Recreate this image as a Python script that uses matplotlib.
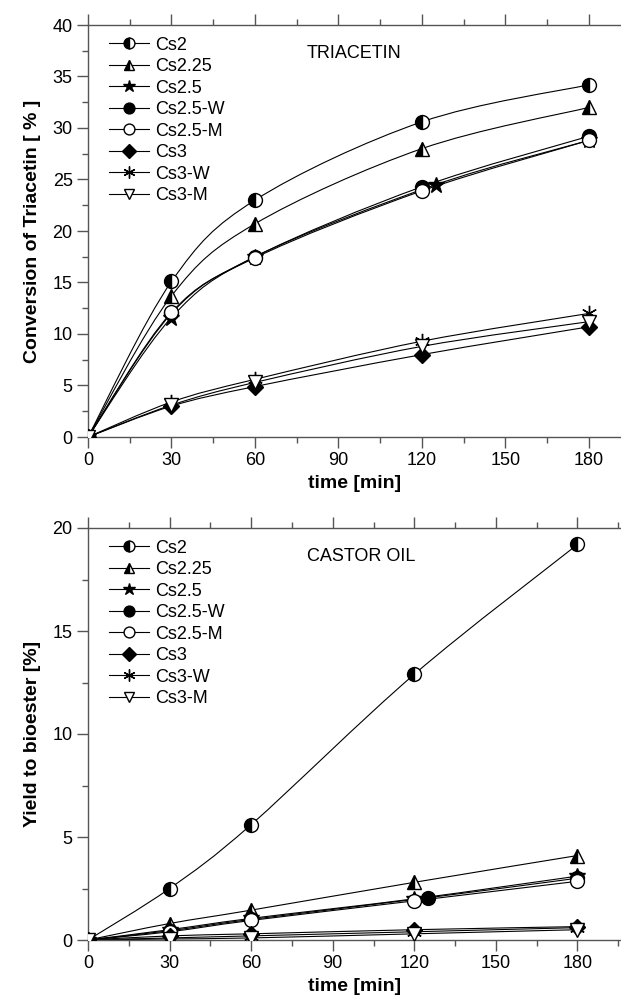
import matplotlib
matplotlib.use("Agg")
import matplotlib.pyplot as plt
from matplotlib.path import Path
from matplotlib.patches import PathPatch
from matplotlib.ticker import MultipleLocator
import numpy as np

plt.rcParams['font.family'] = ['Liberation Sans', 'DejaVu Sans']

labels = ["Cs2", "Cs2.25", "Cs2.5", "Cs2.5-W", "Cs2.5-M", "Cs3", "Cs3-W", "Cs3-M"]

# ---- Triacetin conversion [%] ----
tri_time = {
    "Cs2":     [0, 30, 60, 120, 180],
    "Cs2.25":  [0, 30, 60, 120, 180],
    "Cs2.5":   [0, 30, 60, 125, 180],
    "Cs2.5-W": [0, 30, 60, 120, 180],
    "Cs2.5-M": [0, 30, 60, 120, 180],
    "Cs3":     [0, 30, 60, 120, 180],
    "Cs3-W":   [0, 30, 60, 120, 180],
    "Cs3-M":   [0, 30, 60, 120, 180],
}
tri_cs2 = [0, 15.1, 23.0, 30.6, 34.2]
tri_cs225 = [0, 13.7, 20.7, 28.0, 32.0]
tri_cs25 = [0, 11.6, 17.5, 24.5, 28.8]
tri_cs25w = [0, 12.0, 17.5, 24.3, 29.2]
tri_cs25m = [0, 12.1, 17.4, 23.9, 28.8]
tri_cs3 = [0, 3.0, 4.9, 8.0, 10.7]
tri_cs3w = [0, 3.4, 5.6, 9.3, 12.0]
tri_cs3m = [0, 3.1, 5.3, 8.8, 11.2]

# ---- Castor oil yield to bioester [%] ----
cas_time = {
    "Cs2":     [0, 30, 60, 120, 180],
    "Cs2.25":  [0, 30, 60, 120, 180],
    "Cs2.5":   [0, 30, 60, 120, 180],
    "Cs2.5-W": [0, 30, 60, 125, 180],
    "Cs2.5-M": [0, 30, 60, 120, 180],
    "Cs3":     [0, 30, 60, 120, 180],
    "Cs3-W":   [0, 30, 60, 120, 180],
    "Cs3-M":   [0, 30, 60, 120, 180],
}
cas_cs2 = [0, 2.5, 5.6, 12.9, 19.2]
cas_cs225 = [0, 0.8, 1.45, 2.8, 4.1]
cas_cs25 = [0, 0.5, 1.05, 2.0, 3.1]
cas_cs25w = [0, 0.45, 1.0, 2.05, 3.0]
cas_cs25m = [0, 0.4, 0.95, 1.9, 2.85]
cas_cs3 = [0, 0.2, 0.3, 0.5, 0.65]
cas_cs3w = [0, 0.1, 0.2, 0.4, 0.6]
cas_cs3m = [0, 0.05, 0.1, 0.3, 0.5]

tri_vals = dict(zip(labels, [tri_cs2, tri_cs225, tri_cs25, tri_cs25w, tri_cs25m, tri_cs3, tri_cs3w, tri_cs3m]))
cas_vals = dict(zip(labels, [cas_cs2, cas_cs225, cas_cs25, cas_cs25w, cas_cs25m, cas_cs3, cas_cs3w, cas_cs3m]))

ASTER = (6, 2, 0)
styles = {
    "Cs2":     dict(marker='o', fillstyle='left', markerfacecolor='black', markerfacecoloralt='white'),
    "Cs2.25":  dict(marker='^', fillstyle='left', markerfacecolor='black', markerfacecoloralt='white'),
    "Cs2.5":   dict(marker='*', markerfacecolor='black', ms_scale=1.2),
    "Cs2.5-W": dict(marker='o', markerfacecolor='black'),
    "Cs2.5-M": dict(marker='o', markerfacecolor='white'),
    "Cs3":     dict(marker='D', markerfacecolor='black', ms_scale=0.85),
    "Cs3-W":   dict(marker=ASTER, markerfacecolor='black', ms_scale=1.1),
    "Cs3-M":   dict(marker='v', markerfacecolor='white'),
}

MS = 10


def smooth_path(ax, x, y):
    # Catmull-Rom curve through the data points, drawn as cubic Bezier segments
    x = np.asarray(x, float); y = np.asarray(y, float)
    verts = [(x[0], y[0])]
    codes = [Path.MOVETO]
    n = len(x)
    for i in range(n - 1):
        p0 = (x[max(i - 1, 0)], y[max(i - 1, 0)])
        p1 = (x[i], y[i]); p2 = (x[i + 1], y[i + 1])
        p3 = (x[min(i + 2, n - 1)], y[min(i + 2, n - 1)])
        c1 = (p1[0] + (p2[0] - p0[0]) / 6, p1[1] + (p2[1] - p0[1]) / 6)
        c2 = (p2[0] - (p3[0] - p1[0]) / 6, p2[1] - (p3[1] - p1[1]) / 6)
        verts += [c1, c2, p2]
        codes += [Path.CURVE4] * 3
    ax.add_patch(PathPatch(Path(verts, codes), facecolor='none', edgecolor='black', lw=0.8, zorder=2))


def draw(ax, times, vals, xmax, ymax, ylabel, title, ytick_step):
    handles = []
    for lab in labels:
        st = dict(styles[lab])
        scale = st.pop('ms_scale', 1.0)
        smooth_path(ax, times[lab], vals[lab])
        ax.plot(times[lab], vals[lab], linestyle='none', markersize=MS * scale,
                markeredgecolor='black', markeredgewidth=1.0, zorder=3, **st)
        h, = ax.plot([], [], color='black', lw=0.8, markersize=MS * scale * 0.78,
                     markeredgecolor='black', markeredgewidth=1.0, **st)
        handles.append(h)
    ax.set_xlim(0, xmax)
    ax.set_ylim(0, ymax)
    ax.xaxis.set_major_locator(MultipleLocator(30))
    ax.xaxis.set_minor_locator(MultipleLocator(15))
    ax.yaxis.set_major_locator(MultipleLocator(ytick_step))
    ax.yaxis.set_minor_locator(MultipleLocator(ytick_step / 2))
    ax.spines['right'].set_visible(False)
    for s in ['left', 'bottom', 'top']:
        ax.spines[s].set_color('#555555')
        ax.spines[s].set_linewidth(1.0)
    ax.tick_params(axis='both', which='major', direction='out', length=8, width=1.0,
                   color='#555555', labelsize=13, pad=3)
    ax.tick_params(axis='both', which='minor', direction='out', length=4, width=1.0, color='#555555')
    ax.tick_params(axis='x', which='both', top=True)
    ax.set_xlabel('time [min]', fontsize=14, fontweight='bold', labelpad=4)
    ax.set_ylabel(ylabel, fontsize=14, fontweight='bold', labelpad=8)
    ax.text(0.41, 0.93, title, transform=ax.transAxes, fontsize=13, va='center', ha='left')
    ax.legend(handles, labels, loc='upper left', bbox_to_anchor=(0.02, 0.998), frameon=False,
              fontsize=13, handlelength=2.2, handletextpad=0.3, labelspacing=0.25,
              borderaxespad=0.2, numpoints=1)


fig = plt.figure(figsize=(6.21, 10.05), dpi=100)
ax1 = fig.add_axes([88 / 621, 1 - 437 / 1005, 533 / 621, 412 / 1005])
ax2 = fig.add_axes([88 / 621, 1 - 940 / 1005, 533 / 621, 412 / 1005])

draw(ax1, tri_time, tri_vals, 191.5, 40, 'Conversion of Triacetin [ % ]', 'TRIACETIN', 5)
draw(ax2, cas_time, cas_vals, 196.0, 20, 'Yield to bioester [%]', 'CASTOR OIL', 5)

fig.savefig('out.png', dpi=100)
